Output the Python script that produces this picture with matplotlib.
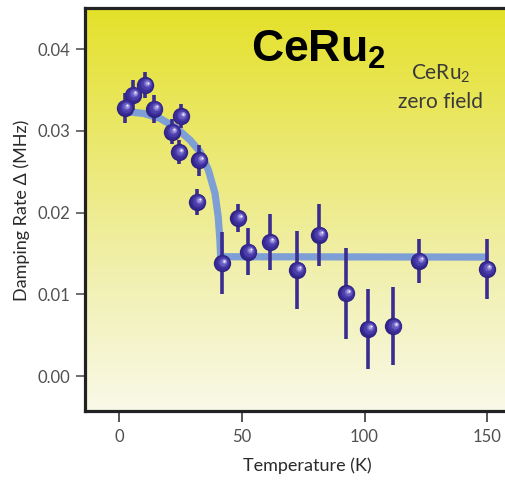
import numpy as np
import matplotlib
matplotlib.use("Agg")
import matplotlib.pyplot as plt
import matplotlib.transforms as mtransforms
from matplotlib.colors import LinearSegmentedColormap

# ---------------- data ----------------
temp = [2.4, 5.6, 10.6, 14.3, 21.5, 25.1, 24.3, 32.7, 31.9, 41.8,
        48.6, 52.7, 61.5, 72.6, 81.5, 92.5, 101.5, 111.8, 122.2, 149.8]
rate = [0.0328, 0.0344, 0.0356, 0.0327, 0.0299, 0.0318, 0.0274, 0.0264, 0.0213, 0.0138,
        0.0193, 0.0152, 0.0164, 0.0130, 0.0173, 0.0101, 0.0058, 0.0061, 0.0141, 0.0131]
err = [0.0018, 0.0018, 0.0016, 0.0017, 0.0015, 0.0015, 0.0015, 0.0019, 0.0016, 0.0038,
       0.0017, 0.0029, 0.0034, 0.0048, 0.0038, 0.0056, 0.0049, 0.0048, 0.0027, 0.0037]

# fitted curve (traced)
fit_t = [3.1, 9.9, 16.7, 23.5, 28.9, 33.0, 36.4, 39.1, 40.4, 41.1, 41.4, 150.5]
fit_d = [0.03233, 0.03213, 0.03152, 0.03030, 0.02887, 0.02744, 0.02520,
         0.02235, 0.01949, 0.01664, 0.01459, 0.01455]

yticks = [0.00, 0.01, 0.02, 0.03, 0.04]
xticks = [0, 50, 100, 150]

# ---------------- figure ----------------
plt.rcParams['font.family'] = ['Lato', 'DejaVu Sans']
plt.rcParams['mathtext.fontset'] = 'custom'
plt.rcParams['mathtext.bf'] = 'Liberation Sans:bold'
plt.rcParams['mathtext.rm'] = 'Lato'

fig = plt.figure(figsize=(5.06, 4.80), dpi=100)
ax = fig.add_axes([85/506, 69/480, 444/506, 403/480])
ax.set_xlim(-13.85, 167.0)
ax.set_ylim(-0.00428, 0.04502)

# background gradient
grad = LinearSegmentedColormap.from_list(
    'bg', ['#f9f9e8', '#f1f0b0', '#ebe86e', '#e4e12a'])
ax.imshow(np.linspace(0, 1, 256).reshape(-1, 1), cmap=grad, aspect='auto',
          extent=[0, 1, 0, 1], transform=ax.transAxes, origin='lower', zorder=0)

ax.plot(fit_t, fit_d, color='#7d9fd6', lw=5.2, solid_capstyle='butt',
        solid_joinstyle='round', zorder=2)

ax.errorbar(temp, rate, yerr=err, fmt='none', ecolor='#3a2c90',
            elinewidth=2.6, capsize=0, zorder=3)

# shaded spheres
shades = [(12.5, '#2f2384', 0.0), (10.5, '#3b2d98', 0.3), (8.0, '#4c3eaa', 0.7),
          (5.5, '#6a5dc2', 1.1), (3.2, '#a39ade', 1.5), (1.4, '#f0eeff', 1.8)]
for ms, col, off in shades:
    tr = ax.transData + mtransforms.ScaledTranslation(off / 72, off / 72, fig.dpi_scale_trans)
    ax.plot(temp, rate, 'o', ms=ms, color=col, mec='none', transform=tr, zorder=4)

# spines and ticks
for s in ['left', 'bottom', 'top']:
    ax.spines[s].set_linewidth(2.3)
    ax.spines[s].set_color('#222222')
ax.spines['right'].set_visible(False)

ax.set_xticks(xticks)
ax.set_yticks(yticks)
ax.set_yticklabels(['%.2f' % v for v in yticks])
ax.tick_params(axis='y', direction='out', length=6.5, width=1.2, color='#555555',
               pad=4, labelsize=12, labelcolor='#505050')
ax.tick_params(axis='x', direction='out', length=8, width=1.4, color='#555555',
               pad=5, labelsize=12, labelcolor='#505050')
ax.yaxis.get_major_ticks()[0].tick1line.set_color('#7a1a1a')

fig.text(22/506, 1 - 210/480, 'Damping Rate \u0394 (MHz)', rotation=90,
         ha='center', va='center', fontsize=13, color='#2a2a2a')
fig.text(307/506, 1 - 466/480, 'Temperature (K)', ha='center', va='center',
         fontsize=13, color='#2a2a2a')

fig.text(318/506, 1 - 50/480, r'$\mathbf{CeRu_2}$', ha='center', va='center',
         fontsize=32, color='black')
fig.text(441/506, 1 - 74/480, r'$\mathrm{CeRu_2}$', ha='center', va='center',
         fontsize=15, color='#3a3a3a')
fig.text(441/506, 1 - 102/480, 'zero field', ha='center', va='center',
         fontsize=15, color='#3a3a3a')

fig.savefig('out.png', dpi=100)
